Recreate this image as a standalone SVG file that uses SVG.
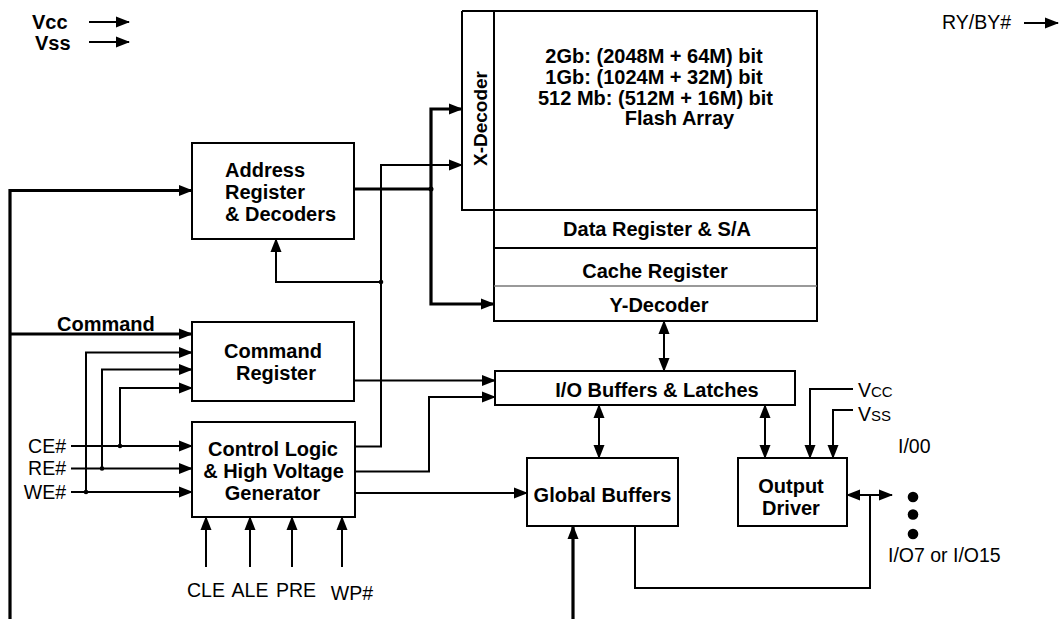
<svg xmlns="http://www.w3.org/2000/svg" width="1060" height="619" viewBox="0 0 1060 619">
<style>
text{font-family:"Liberation Sans",Arial,Helvetica,sans-serif;fill:#000}
.b{font-weight:bold;font-size:20px}
.r{font-size:19.5px}
.m{text-anchor:middle}
.box{fill:#fff;stroke:#000;stroke-width:2}
.ln{fill:none;stroke:#000;stroke-width:2}
.th{fill:none;stroke:#000;stroke-width:3.2}
.ar{marker-end:url(#ah)}
.da{marker-start:url(#ah);marker-end:url(#ah)}
</style>
<defs>
<marker id="ah" markerUnits="userSpaceOnUse" markerWidth="14" markerHeight="12" viewBox="0 0 14 12" refX="13" refY="6" orient="auto-start-reverse">
<path d="M0,0.5 L14,6 L0,11.5 z" fill="#000"/>
</marker>
</defs>
<rect width="1060" height="619" fill="#fff"/>

<g id="power-top">
<text class="b" x="32" y="29">Vcc</text>
<text class="b" x="35" y="50">Vss</text>
</g>
<g id="rybyn">
<text class="r" x="942" y="29">RY/BY#</text>
</g>

<g id="flash-array">
<path class="ln" d="M462,11 H817 V321 H494 V11 M462,11 V210 H817 M494,248 H817"/>
<path d="M494,286 H817" stroke="#777" stroke-width="1.5" fill="none"/>
<text class="b m" x="654" y="63">2Gb: (2048M + 64M) bit</text>
<text class="b m" x="654" y="84">1Gb: (1024M + 32M) bit</text>
<text class="b m" x="655.5" y="104.5">512 Mb: (512M + 16M) bit</text>
<text class="b m" x="679.5" y="124.5">Flash Array</text>
<text class="b m" transform="translate(487,118.5) rotate(-90)" style="font-size:19px">X-Decoder</text>
</g>
<g id="data-register">
<text class="b m" x="657" y="235.5">Data Register &amp; S/A</text>
</g>
<g id="cache-register">
<text class="b m" x="655" y="278">Cache Register</text>
</g>
<g id="y-decoder">
<text class="b m" x="659" y="312">Y-Decoder</text>
</g>

<g id="address-register">
<rect class="box" x="192" y="143" width="162" height="96"/>
<text class="b" x="225" y="176.5">Address</text>
<text class="b" x="225" y="198.5">Register</text>
<text class="b" x="225" y="220.5">&amp; Decoders</text>
</g>

<g id="command-register">
<rect class="box" x="192" y="322" width="162" height="79"/>
<text class="b m" x="273" y="358">Command</text>
<text class="b m" x="276" y="380">Register</text>
</g>

<g id="control-logic">
<rect class="box" x="192" y="422" width="163" height="95"/>
<text class="b m" x="273" y="456">Control Logic</text>
<text class="b m" x="273.5" y="478">&amp; High Voltage</text>
<text class="b m" x="272.5" y="500">Generator</text>
</g>

<g id="io-buffers">
<rect class="box" x="495" y="371" width="300" height="34"/>
<text class="b m" x="657" y="397">I/O Buffers &amp; Latches</text>
</g>

<g id="global-buffers">
<rect class="box" x="527" y="458" width="151" height="68"/>
<text class="b m" x="602.5" y="502">Global Buffers</text>
</g>

<g id="output-driver">
<rect class="box" x="738" y="458" width="109" height="68"/>
<text class="b m" x="791" y="493">Output</text>
<text class="b m" x="791" y="515">Driver</text>
</g>

<g id="labels">
<text class="b" x="57" y="331">Command</text>
<text class="r" x="66" y="453" text-anchor="end">CE#</text>
<text class="r" x="66" y="475" text-anchor="end">RE#</text>
<text class="r" x="66" y="499" text-anchor="end">WE#</text>
<text class="r m" x="206" y="597">CLE</text>
<text class="r m" x="250" y="597">ALE</text>
<text class="r m" x="296" y="597">PRE</text>
<text class="r m" x="352" y="600">WP#</text>
<text class="r" x="858" y="396.5">V<tspan style="font-size:15px">CC</tspan></text>
<text class="r" x="858" y="420.5">V<tspan style="font-size:15px">SS</tspan></text>
<text class="r" x="898" y="453">I/00</text>
<text class="r" x="888" y="562">I/O7 or I/O15</text>
<circle cx="913" cy="497" r="5.3"/>
<circle cx="913" cy="514.5" r="5.3"/>
<circle cx="913" cy="534" r="5.3"/>
</g>

<g id="connectors">
<path class="ln ar" d="M89,22 H129"/>
<path class="ln ar" d="M89,42 H129"/>
<path class="ln ar" d="M1024,23 H1058"/>

<path class="th ar" d="M10,619 V190.5 H192"/>
<path class="th ar" d="M10,334 H192"/>
<path class="th" d="M354,189 H431"/>
<path class="th ar" d="M431,189 V109 H462"/>
<path class="th ar" d="M431,189 V304 H494"/>
<circle cx="431" cy="189" r="2.5"/>

<path class="ln ar" d="M355,446.5 H381 V165 H462"/>
<path class="ln ar" d="M381,282 H276 V239"/>
<circle cx="381" cy="282" r="2.3"/>

<path class="ln ar" d="M354,380.5 H495"/>
<path class="ln ar" d="M355,471.5 H429 V397 H495"/>
<path class="ln ar" d="M355,493 H527"/>

<path class="ln ar" d="M71,446 H192"/>
<path class="ln ar" d="M71,468.5 H192"/>
<path class="ln ar" d="M71,492 H192"/>
<path class="ln ar" d="M120,446 V388 H192"/>
<path class="ln ar" d="M102,468.5 V369.5 H192"/>
<path class="ln ar" d="M86,492 V352.5 H192"/>
<circle cx="120" cy="446" r="2.3"/>
<circle cx="102" cy="468.5" r="2.3"/>
<circle cx="86" cy="492" r="2.3"/>

<path class="ln ar" d="M206,567 V517"/>
<path class="ln ar" d="M250,567 V517"/>
<path class="ln ar" d="M292,567 V517"/>
<path class="ln ar" d="M342,567 V517"/>

<path class="ln da" d="M664,321 V371"/>
<path class="ln da" d="M599,405 V458"/>
<path class="ln da" d="M765,405 V458"/>

<path class="ln ar" d="M853,389 H810 V458"/>
<path class="ln ar" d="M853,410 H833 V458"/>

<path class="ln da" d="M847,495 H892"/>
<path class="ln" d="M635,526 V588 H870 V495"/>

<path class="th ar" d="M573,619 V526"/>
</g>
</svg>
